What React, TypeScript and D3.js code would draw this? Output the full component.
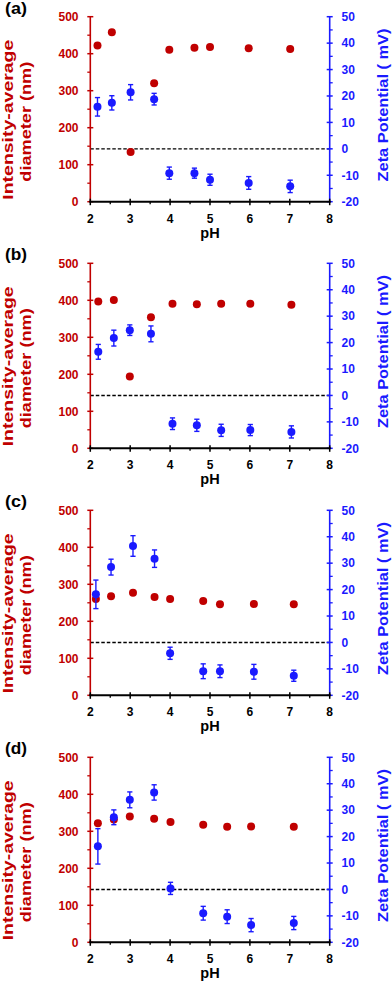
import React from "react";
import * as d3 from "d3";

const panelLabels = ["(a)", "(b)", "(c)", "(d)"];

const pHA = [2.18, 2.54, 3.01, 3.6, 3.98, 4.61, 5.0, 5.97, 7.01];
const diamA = [422, 458, 134, 320, 411, 416, 418, 415, 413];
const zetaA = [15.9, 17.4, 21.4, 18.8, -9.2, -9.2, -11.7, -12.9, -14.2];
const errA = [3.5, 2.7, 2.9, 2.2, 2.3, 1.9, 2.1, 2.4, 2.35];

const pHB = [2.2, 2.59, 2.99, 3.52, 4.06, 4.67, 5.28, 6.01, 7.04];
const diamB = [397, 401, 194, 354, 391, 389, 391, 391, 388];
const zetaB = [16.5, 21.7, 24.7, 23.3, -10.7, -11.3, -13.2, -13.1, -13.8];
const errB = [2.8, 3.0, 2.0, 3.0, 2.2, 2.3, 2.3, 2.1, 2.3];

const pHC = [2.14, 2.52, 3.07, 3.61, 4.0, 4.83, 5.25, 6.1, 7.1];
const diamC = [260, 268, 277, 266, 260, 255, 246, 247, 246];
const zetaC = [18.2, 28.5, 36.5, 31.7, -4.1, -10.9, -10.9, -11.1, -12.6];
const errC = [5.4, 3.0, 3.9, 3.3, 2.3, 2.8, 2.4, 2.8, 2.1];

const pHD = [2.19, 2.59, 2.99, 3.6, 4.01, 4.83, 5.43, 6.03, 7.1];
const diamD = [322, 332, 340, 334, 325, 318, 312, 313, 312];
const zetaD = [16.3, 27.3, 33.9, 36.7, 0.4, -9.0, -10.3, -13.5, -12.7];
const errD = [6.7, 2.8, 3.0, 2.9, 2.3, 2.6, 2.6, 2.5, 2.5];

const diamTicks = [0, 100, 200, 300, 400, 500];
const diamMinor = [50, 150, 250, 350, 450];
const zetaTicks = [-20, -10, 0, 10, 20, 30, 40, 50];
const zetaMinor = [-15, -5, 5, 15, 25, 35, 45];
const phTicks = [2, 3, 4, 5, 6, 7, 8];
const phMinor = [2.5, 3.5, 4.5, 5.5, 6.5, 7.5];

const leftTitle1 = "Intensity-average";
const leftTitle2 = "diameter (nm)";
const rightTitle = "Zeta Potential ( mV)";
const xTitle = "pH";

const panels = [
  { label: panelLabels[0], ph: pHA, diam: diamA, zeta: zetaA, err: errA },
  { label: panelLabels[1], ph: pHB, diam: diamB, zeta: zetaB, err: errB },
  { label: panelLabels[2], ph: pHC, diam: diamC, zeta: zetaC, err: errC },
  { label: panelLabels[3], ph: pHD, diam: diamD, zeta: zetaD, err: errD },
];

const tops = [16.7, 263.3, 510.3, 757.3];
const RED = "#c00000";
const BLUE = "#1a1aff";
const FONT = "'Liberation Sans', Arial, sans-serif";
const H = 185;

function Panel({ p, top }: { p: any; top: number }) {
  const x = d3.scaleLinear().domain([2, 8]).range([90.3, 329.7]);
  const y = d3.scaleLinear().domain([0, 500]).range([top + H, top]);
  const z = d3.scaleLinear().domain([-20, 50]).range([top + H, top]);
  const x0 = x(2);
  const x1 = x(8);
  const yb = top + H;
  return (
    <g>
      <text x={5} y={top - 3} fontFamily={FONT} fontWeight="bold" fontSize={16} fill="#000" textLength={22} lengthAdjust="spacingAndGlyphs">
        {p.label}
      </text>
      {/* dashed zero line */}
      <line x1={x0} x2={x1} y1={z(0)} y2={z(0)} stroke="#000" strokeWidth={1.4} strokeDasharray="3.5,2" />
      {/* left axis */}
      <line x1={x0} x2={x0} y1={y(500)} y2={yb} stroke={RED} strokeWidth={1.6} />
      {diamTicks.map((t) => (
        <g key={"l" + t}>
          <line x1={x0 - 3} x2={x0 + 3} y1={y(t)} y2={y(t)} stroke={RED} strokeWidth={1.5} />
          <text x={78.5} y={y(t)} dy="0.36em" textAnchor="end" fontFamily={FONT} fontWeight="bold" fontSize={12} fill={RED}>
            {t}
          </text>
        </g>
      ))}
      {diamMinor.map((t) => (
        <line key={"lm" + t} x1={x0 - 3} x2={x0} y1={y(t)} y2={y(t)} stroke={RED} strokeWidth={1.3} />
      ))}
      {/* right axis */}
      <line x1={x1} x2={x1} y1={z(50)} y2={yb} stroke={BLUE} strokeWidth={1.6} />
      {zetaTicks.map((t) => (
        <g key={"r" + t}>
          <line x1={x1 - 3} x2={x1 + 3} y1={z(t)} y2={z(t)} stroke={BLUE} strokeWidth={1.5} />
          <text x={341.5} y={z(t)} dy="0.36em" textAnchor="start" fontFamily={FONT} fontWeight="bold" fontSize={12} fill={BLUE}>
            {t}
          </text>
        </g>
      ))}
      {zetaMinor.map((t) => (
        <line key={"rm" + t} x1={x1} x2={x1 + 3} y1={z(t)} y2={z(t)} stroke={BLUE} strokeWidth={1.3} />
      ))}
      {/* x axis */}
      <line x1={x0 - 1} x2={x1 + 1} y1={yb} y2={yb} stroke="#000" strokeWidth={2} />
      {phTicks.map((t) => (
        <g key={"x" + t}>
          <line x1={x(t)} x2={x(t)} y1={yb - 3} y2={yb + 3.5} stroke="#000" strokeWidth={1.5} />
          <text x={x(t)} y={yb + 21} textAnchor="middle" fontFamily={FONT} fontWeight="bold" fontSize={12} fill="#000">
            {t}
          </text>
        </g>
      ))}
      {phMinor.map((t) => (
        <line key={"xm" + t} x1={x(t)} x2={x(t)} y1={yb} y2={yb + 2.5} stroke="#000" strokeWidth={1.3} />
      ))}
      <text x={(x0 + x1) / 2} y={yb + 36} textAnchor="middle" fontFamily={FONT} fontWeight="bold" fontSize={14.5} fill="#000">
        {xTitle}
      </text>
      {/* titles */}
      <text transform={`translate(13.3,${top + 103}) rotate(-90)`} textAnchor="middle" fontFamily={FONT} fontWeight="bold" fontSize={15} fill={RED} textLength={160} lengthAdjust="spacingAndGlyphs">
        {leftTitle1}
      </text>
      <text transform={`translate(30.5,${top + 105}) rotate(-90)`} textAnchor="middle" fontFamily={FONT} fontWeight="bold" fontSize={15} fill={RED} textLength={120} lengthAdjust="spacingAndGlyphs">
        {leftTitle2}
      </text>
      <text transform={`translate(387.5,${top + 88.3}) rotate(-90)`} textAnchor="middle" fontFamily={FONT} fontWeight="bold" fontSize={15} fill={BLUE} textLength={153} lengthAdjust="spacingAndGlyphs">
        {rightTitle}
      </text>
      {/* red points */}
      {p.ph.map((ph: number, i: number) => (
        <circle key={"d" + i} cx={x(ph)} cy={y(p.diam[i])} r={4} fill={RED} />
      ))}
      {/* blue points with error bars */}
      {p.ph.map((ph: number, i: number) => {
        const cx = x(ph);
        const hi = z(p.zeta[i] + p.err[i]);
        const lo = z(p.zeta[i] - p.err[i]);
        return (
          <g key={"z" + i}>
            <line x1={cx} x2={cx} y1={hi} y2={lo} stroke={BLUE} strokeWidth={1.4} />
            <line x1={cx - 2.6} x2={cx + 2.6} y1={hi} y2={hi} stroke={BLUE} strokeWidth={1.4} />
            <line x1={cx - 2.6} x2={cx + 2.6} y1={lo} y2={lo} stroke={BLUE} strokeWidth={1.4} />
            <circle cx={cx} cy={z(p.zeta[i])} r={4} fill={BLUE} />
          </g>
        );
      })}
    </g>
  );
}

export default function App() {
  return (
    <svg width={392} height={984} style={{ position: "absolute", left: 0, top: 0, background: "#fff" }}>
      <rect width={392} height={984} fill="#fff" />
      {panels.map((p, i) => (
        <Panel key={i} p={p} top={tops[i]} />
      ))}
    </svg>
  );
}
